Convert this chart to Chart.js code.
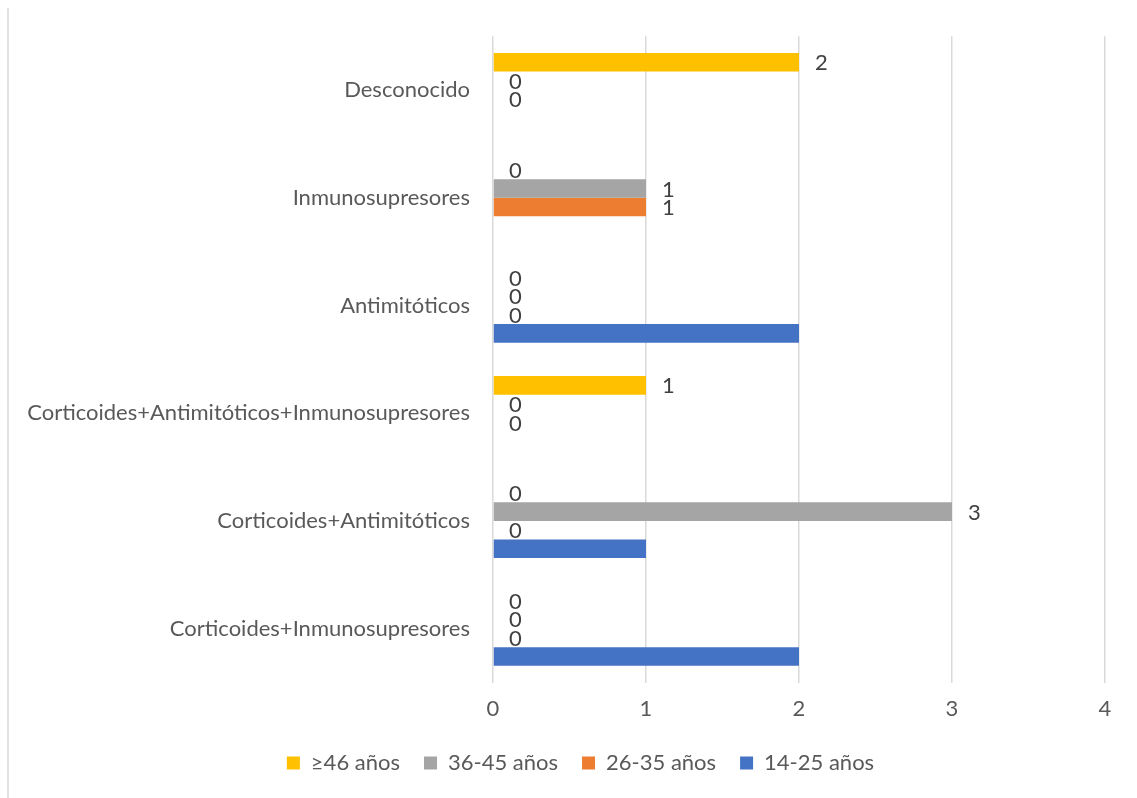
<!DOCTYPE html>
<html>
<head>
<meta charset="utf-8">
<script src="https://cdn.jsdelivr.net/npm/chart.js@4/dist/chart.umd.min.js"></script>
<style>
  html, body { margin: 0; padding: 0; background: #ffffff; }
  #wrap { width: 1137px; height: 798px; }
</style>
</head>
<body>
<div id="wrap"><canvas id="chart" width="1137" height="798"></canvas></div>
<script>
// Treatment categories (top to bottom)
const categories = [
  'Desconocido',
  'Inmunosupresores',
  'Antimitóticos',
  'Corticoides+Antimitóticos+Inmunosupresores',
  'Corticoides+Antimitóticos',
  'Corticoides+Inmunosupresores'
];

// Patients per age group
const age46plus = [2, 0, 0, 1, 0, 0];
const age36to45 = [0, 1, 0, 0, 3, 0];
const age26to35 = [0, 1, 0, 0, 0, 0];
const age14to25 = [0, 0, 2, 0, 1, 2];

const xTicks = [0, 1, 2, 3, 4];

const FONT = 'Lato';
const TEXT = '#595959';
const GRID = '#D9D9D9';

// Value labels beside each bar (the 14-25 series carries none)
const valueLabels = {
  id: 'valueLabels',
  afterDatasetsDraw(chart) {
    const ctx = chart.ctx;
    ctx.save();
    ctx.font = '22px ' + FONT;
    ctx.fillStyle = '#404040';
    ctx.textAlign = 'left';
    ctx.textBaseline = 'middle';
    chart.data.datasets.forEach((ds, i) => {
      if (!ds.showValues) return;
      const meta = chart.getDatasetMeta(i);
      meta.data.forEach((bar, j) => {
        const v = ds.data[j];
        if (v === null || v === undefined) return;
        ctx.fillText(String(v), bar.x + 16, bar.y + 1);
      });
    });
    ctx.restore();
  }
};

// Thin frame line on the left edge, and the legend nudged under the plot
const frame = {
  id: 'frame',
  afterLayout(chart) {
    if (chart.legend) {
      chart.legend.left += 23;
      chart.legend.right += 23;
    }
  },
  beforeDraw(chart) {
    const ctx = chart.ctx;
    ctx.save();
    ctx.strokeStyle = GRID;
    ctx.lineWidth = 1.5;
    ctx.beginPath();
    ctx.moveTo(8, 8);
    ctx.lineTo(8, 798);
    ctx.stroke();
    ctx.restore();
  }
};

new Chart(document.getElementById('chart'), {
  type: 'bar',
  data: {
    labels: categories,
    datasets: [
      { label: '≥46 años',   data: age46plus, backgroundColor: '#FFC000', showValues: true },
      { label: '36-45 años', data: age36to45, backgroundColor: '#A5A5A5', showValues: true },
      { label: '26-35 años', data: age26to35, backgroundColor: '#ED7D31', showValues: true },
      { label: '14-25 años', data: age14to25, backgroundColor: '#4472C4', showValues: false }
    ]
  },
  options: {
    indexAxis: 'y',
    responsive: false,
    animation: false,
    devicePixelRatio: 1,
    datasets: { bar: { barPercentage: 1, categoryPercentage: 0.69, borderWidth: 0 } },
    layout: { padding: { left: 10, right: 32, top: 36, bottom: 14 } },
    scales: {
      x: {
        min: 0,
        max: 4,
        afterBuildTicks(scale) { scale.ticks = xTicks.map(v => ({ value: v })); },
        afterFit(scale) { scale.height = 45.5; },
        grid: { color: GRID, lineWidth: 1.5, drawTicks: false },
        border: { display: false },
        ticks: { color: TEXT, font: { family: FONT, size: 22 }, padding: 13 }
      },
      y: {
        afterFit(scale) { scale.width = 483; },
        grid: { display: false, drawTicks: false },
        border: { display: false },
        ticks: { color: TEXT, font: { family: FONT, size: 22 }, padding: 23 }
      }
    },
    plugins: {
      legend: {
        position: 'bottom',
        labels: {
          color: TEXT,
          font: { family: FONT, size: 22 },
          boxWidth: 13,
          boxHeight: 13,
          padding: 24
        }
      },
      tooltip: { enabled: false }
    }
  },
  plugins: [valueLabels, frame]
});
</script>
</body>
</html>
